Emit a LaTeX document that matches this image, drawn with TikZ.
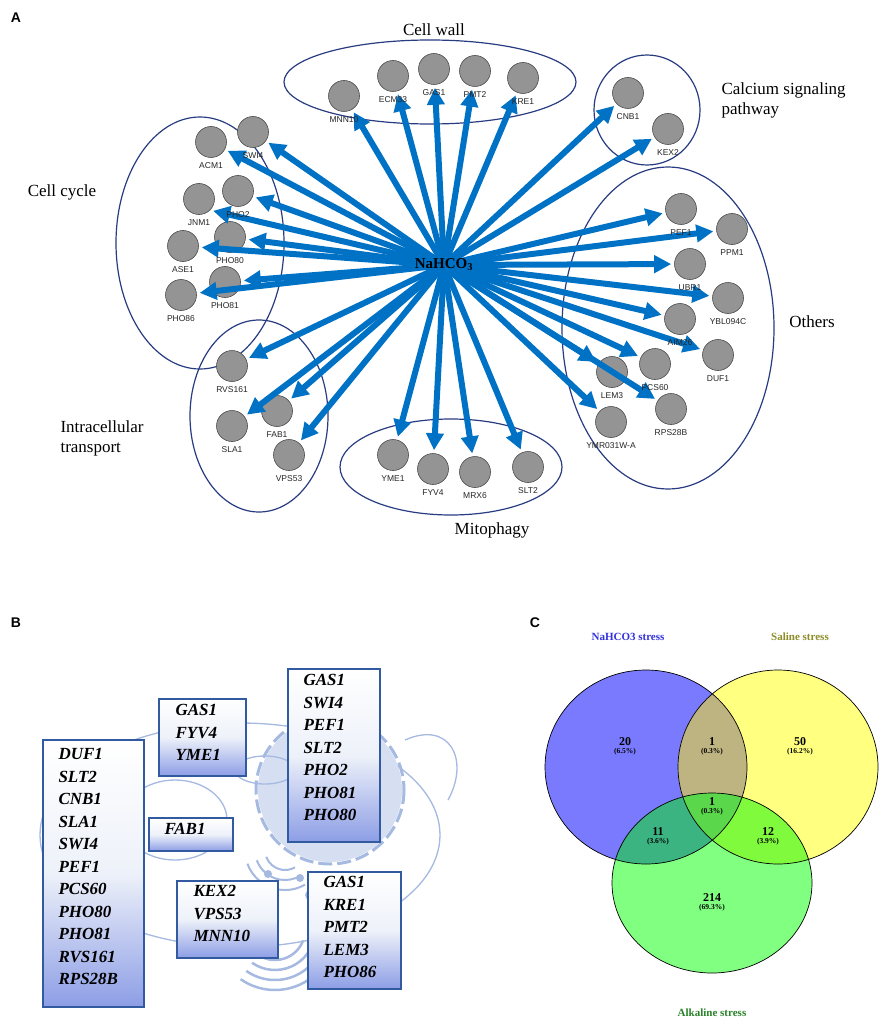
\documentclass[tikz,border=0pt]{standalone}
\usepackage{fontspec}
\setmainfont{Liberation Serif}
\setsansfont{Liberation Sans}
\usetikzlibrary{arrows.meta,shapes.geometric}
\definecolor{arrblue}{RGB}{0,114,198}
\definecolor{grpblue}{RGB}{40,60,130}
\definecolor{boxblue}{RGB}{50,90,160}
\definecolor{cellc}{RGB}{165,185,225}
\begin{document}
\begin{tikzpicture}[x=1pt,y=-1pt,
 gene/.style={circle,fill=black!42,draw=black!70,line width=0.6pt,minimum size=31pt,inner sep=0pt},
 glab/.style={font=\sffamily\fontsize{8.5}{8.5}\selectfont,text=black!85},
 grp/.style={draw=grpblue,line width=1.2pt},
 arr/.style={-{Triangle[length=17pt,width=17pt]},line width=6pt,draw=arrblue,shorten >=3pt},
 cat/.style={font=\fontsize{17}{20}\selectfont,align=left},
 panel/.style={font=\sffamily\bfseries\fontsize{14}{14}\selectfont},
 gbox/.style={draw=boxblue,line width=2.2pt,top color=white,bottom color=cellc!85!blue,middle color=white!80!cellc,inner sep=0pt},
 btxt/.style={font=\bfseries\itshape\fontsize{17}{22.5}\selectfont,align=left,anchor=north west},
 vnum/.style={font=\bfseries\fontsize{12}{12}\selectfont},
 vpct/.style={font=\bfseries\fontsize{7.5}{7.5}\selectfont},
 vt/.style={font=\bfseries\fontsize{11}{11}\selectfont}]
\useasboundingbox (0,0) rectangle (885,1024);
\fill[white] (0,0) rectangle (885,1024);
% panel labels
\node[panel] (pA) at (16,18) {A};
\node[panel] (pB) at (16,623) {B};
\node[panel] (pC) at (535,623) {C};
% group ellipses
\draw[grp] (430,82) ellipse [x radius=146,y radius=42];
\draw[grp] (647,110) ellipse [x radius=53,y radius=55];
\draw[grp] (200,243) ellipse [x radius=84,y radius=126];
\draw[grp] (668,328) ellipse [x radius=106,y radius=161];
\draw[grp] (259,416) ellipse [x radius=69,y radius=96];
\draw[grp] (451,467) ellipse [x radius=111,y radius=48];
% category labels
\node[cat] (lcw) at (434,30) {Cell wall};
\node[cat,anchor=west] (lca) at (718,100) {Calcium signaling\\pathway};
\node[cat] (lcc) at (62,192) {Cell cycle};
\node[cat] (lot) at (812,322) {Others};
\node[cat,anchor=west] (lit) at (57,438) {Intracellular\\transport};
\node[cat] (lmi) at (492,530) {Mitophagy};
% genes
\foreach \n/\x/\y in {MNN10/344/96,ECM33/393/76,GAS1/434/69,PMT2/475/71,KRE1/523/78,
 CNB1/628/93,KEX2/668/129,
 ACM1/211/142,SWI4/253/132,JNM1/199/199,PHO2/238/191,ASE1/183/246,PHO80/230/237,PHO81/225/282,PHO86/181/295,
 PEF1/681/209,PPM1/732/229,UBR1/690/264,YBL094C/728/298,AIM26/680/319,DUF1/718/355,LEM3/612/372,PCS60/655/364,RPS28B/671/409,YMR031W-A/611/422,
 RVS161/232/366,SLA1/232/426,FAB1/277/411,VPS53/289/455,
 YME1/393/455,FYV4/433/469,MRX6/475/472,SLT2/528/467}
 {\node[gene] (g\n) at (\x,\y) {};}
\coordinate (ctr) at (444,265);
\foreach \n in {MNN10,ECM33,GAS1,PMT2,KRE1,CNB1,KEX2,ACM1,SWI4,PHO2,ASE1,PHO80,PHO81,PHO86,
 PEF1,PPM1,UBR1,YBL094C,AIM26,DUF1,LEM3,PCS60,RPS28B,YMR031W-A,RVS161,SLA1,FAB1,VPS53,YME1,FYV4,MRX6,SLT2}
 {\draw[arr] (ctr) -- (g\n);}
\draw[arr] (ctr) -- (gJNM1.south east);
\foreach \n in {MNN10,ECM33,GAS1,PMT2,KRE1,CNB1,KEX2,ACM1,SWI4,JNM1,PHO2,ASE1,PHO80,PHO81,PHO86,
 PEF1,PPM1,UBR1,YBL094C,AIM26,DUF1,PCS60,RPS28B,YMR031W-A,RVS161,SLA1,FAB1,VPS53,YME1,FYV4,MRX6,SLT2}
 {\node[glab,anchor=north] (t\n) at ([yshift=-1pt]g\n.south) {\n};}
\node[glab,anchor=north] (tLEM3) at ([yshift=-1pt]gLEM3.south) {LEM3};
\node[font=\bfseries\fontsize{15}{15}\selectfont] (nahco) at (444,265) {NaHCO$_\mathbf{3}$};
% ===== Panel B: cell sketch =====
\begin{scope}[draw=cellc,fill=cellc,line width=1.3pt]
\draw (240,835) ellipse [x radius=200,y radius=112];
\draw (405,740) .. controls (450,720) and (470,760) .. (448,800);
\draw (175,820) ellipse [x radius=52,y radius=40];
\fill[cellc!45] (330,790) circle (72);
\draw[dashed,line width=3pt,dash pattern=on 14pt off 5pt] (330,790) circle (74);
\draw (330,790) circle (40);
\draw (265,770) ellipse [x radius=30,y radius=14];
\foreach \r in {30,40,50,60}{\draw[line width=2.5pt] (275,930) ++(125:\r) arc (125:20:\r);}
\foreach \r in {20,30,40}{\draw[line width=2pt] (285,850) ++(160:\r) arc (160:60:\r);}
\draw (355,918) circle (9);
\fill (300,878) circle (4) (310,895) circle (5) (268,874) circle (4);
\end{scope}
\node[gbox,minimum width=101pt,minimum height=267pt,anchor=north west] (b1) at (42,739) {};
\node[btxt] (b1t) at (55,745) {DUF1\\SLT2\\CNB1\\SLA1\\SWI4\\PEF1\\PCS60\\PHO80\\PHO81\\RVS161\\RPS28B};
\node[gbox,minimum width=87pt,minimum height=77pt,anchor=north west] (b2) at (158,698) {};
\node[btxt] (b2t) at (172,701) {GAS1\\FYV4\\YME1};
\node[gbox,minimum width=84pt,minimum height=33pt,anchor=north west] (b3) at (148,817) {};
\node[btxt] (b3t) at (161,820) {FAB1};
\node[gbox,minimum width=101pt,minimum height=77pt,anchor=north west] (b4) at (176,880) {};
\node[btxt] (b4t) at (190,882) {KEX2\\VPS53\\MNN10};
\node[gbox,minimum width=92pt,minimum height=173pt,anchor=north west] (b5) at (287,668) {};
\node[btxt] (b5t) at (300,671) {GAS1\\SWI4\\PEF1\\SLT2\\PHO2\\PHO81\\PHO80};
\node[gbox,minimum width=93pt,minimum height=117pt,anchor=north west] (b6) at (307,871) {};
\node[btxt] (b6t) at (320,873) {GAS1\\KRE1\\PMT2\\LEM3\\PHO86};
% ===== Panel C: Venn =====
\def\cb{(646,767) ellipse [x radius=101,y radius=97]}
\def\cy{(778,767) ellipse [x radius=100,y radius=97]}
\def\cg{(712,883) ellipse [x radius=100,y radius=90]}
\fill[fill={rgb,255:red,122;green,122;blue,255}] \cb;
\fill[fill={rgb,255:red,255;green,255;blue,128}] \cy;
\fill[fill={rgb,255:red,128;green,255;blue,128}] \cg;
\begin{scope}\clip \cb; \fill[fill={rgb,255:red,190;green,180;blue,130}] \cy; \fill[fill={rgb,255:red,60;green,180;blue,130}] \cg; \end{scope}
\begin{scope}\clip \cy; \fill[fill={rgb,255:red,128;green,250;blue,60}] \cg; \end{scope}
\begin{scope}\clip \cb; \clip \cy; \fill[fill={rgb,255:red,90;green,215;blue,75}] \cg; \end{scope}
\draw[line width=0.7pt] \cb; \draw[line width=0.7pt] \cy; \draw[line width=0.7pt] \cg;
\foreach \nm/\x/\y/\a/\b in {v1/625/742/20/6.5,v2/712/742/1/0.3,v3/800/742/50/16.2,v4/712/802/1/0.3,v5/658/832/11/3.6,v6/768/832/12/3.9,v7/712/898/214/69.3}
 {\node[vnum] (\nm) at (\x,\y) {\a}; \node[vpct] (\nm p) at (\x,\y+10) {(\b\%)};}
\node[vt,text={rgb,255:red,50;green,50;blue,220}] (tb) at (628,637) {NaHCO3 stress};
\node[vt,text={rgb,255:red,140;green,140;blue,40}] (ty) at (800,637) {Saline stress};
\node[vt,text={rgb,255:red,40;green,130;blue,40}] (tg) at (712,1013) {Alkaline stress};
\end{tikzpicture}
\end{document}
